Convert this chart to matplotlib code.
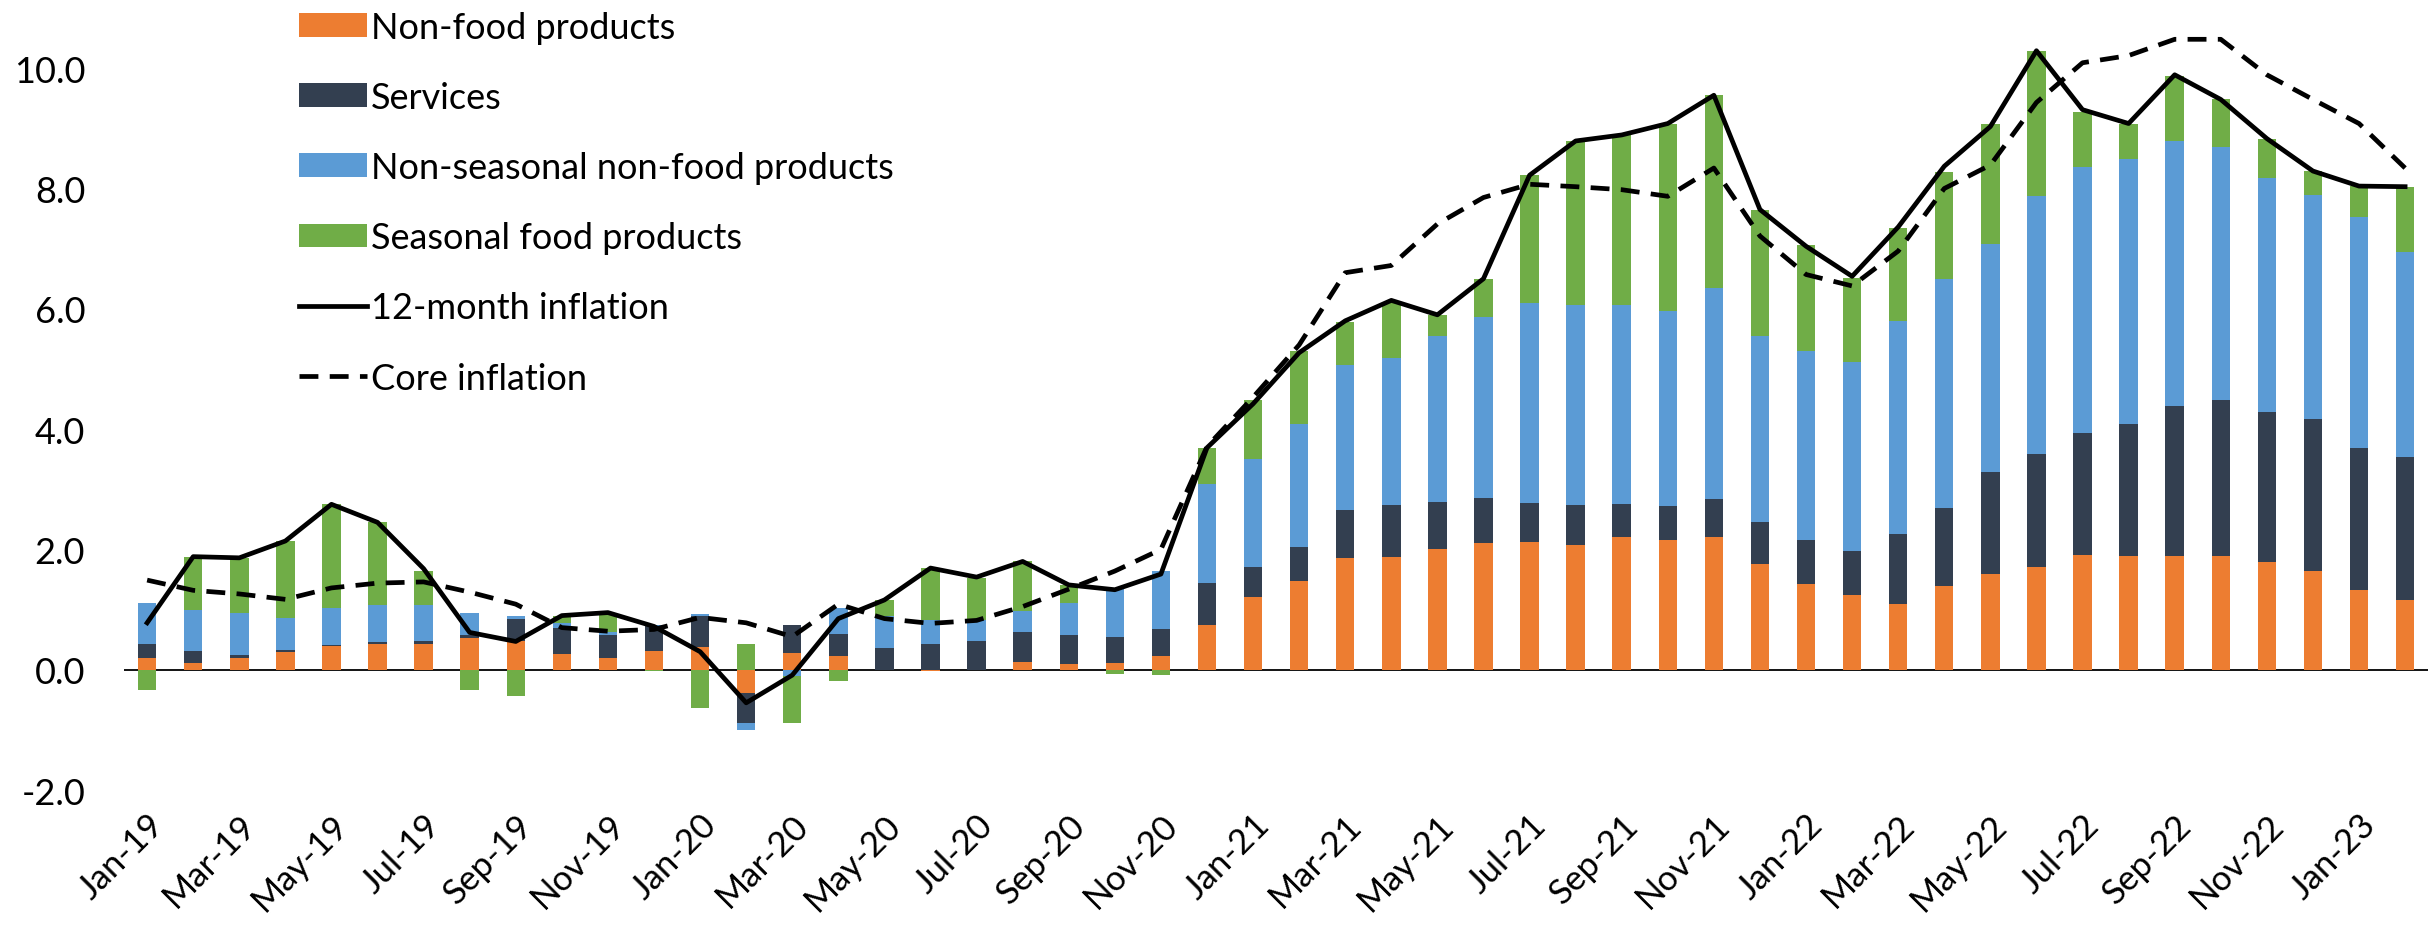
import numpy as np
import matplotlib
matplotlib.use("Agg")
import matplotlib.pyplot as plt
from matplotlib.patches import Patch
from matplotlib.lines import Line2D

plt.rcParams['font.family'] = ['Lato', 'DejaVu Sans']

months = [f"{m}-{y}" for y in ("19", "20", "21", "22") for m in
          ("Jan", "Feb", "Mar", "Apr", "May", "Jun", "Jul", "Aug", "Sep", "Oct", "Nov", "Dec")]
months += ["Jan-23", "Feb-23"]

# Contributions to 12-month inflation (percentage points)
non_food = [0.20, 0.11, 0.19, 0.30, 0.40, 0.42, 0.42, 0.52, 0.47, 0.26, 0.20, 0.31,
            0.37, -0.38, 0.27, 0.23, 0.00, -0.02, 0.00, 0.13, 0.10, 0.12, 0.22, 0.75,
            1.21, 1.48, 1.85, 1.87, 2.00, 2.11, 2.13, 2.08, 2.20, 2.16, 2.20, 1.76,
            1.43, 1.25, 1.10, 1.39, 1.59, 1.70, 1.91, 1.89, 1.89, 1.89, 1.79, 1.64,
            1.32, 1.16]
services = [0.22, 0.20, 0.06, 0.03, 0.01, 0.04, 0.05, 0.06, 0.38, 0.44, 0.38, 0.41,
            0.53, -0.50, 0.48, 0.37, 0.36, 0.43, 0.47, 0.50, 0.48, 0.42, 0.46, 0.69,
            0.50, 0.56, 0.81, 0.87, 0.79, 0.74, 0.64, 0.66, 0.56, 0.56, 0.64, 0.69,
            0.73, 0.73, 1.15, 1.30, 1.70, 1.89, 2.02, 2.20, 2.50, 2.60, 2.49, 2.53,
            2.37, 2.38]
non_seasonal = [0.69, 0.69, 0.70, 0.53, 0.62, 0.61, 0.60, 0.37, 0.05, 0.07, 0.04, 0.03,
                0.02, -0.12, -0.11, 0.43, 0.54, 0.40, 0.36, 0.35, 0.53, 0.82, 0.96, 1.65,
                1.79, 2.04, 2.41, 2.44, 2.75, 3.02, 3.33, 3.33, 3.31, 3.24, 3.51, 3.09,
                3.14, 3.13, 3.55, 3.80, 3.79, 4.29, 4.43, 4.40, 4.40, 4.20, 3.89, 3.73,
                3.84, 3.40]
seasonal_food = [-0.34, 0.88, 0.91, 1.28, 1.72, 1.38, 0.57, -0.34, -0.44, 0.13, 0.33, -0.02,
                 -0.63, 0.43, -0.77, -0.19, 0.26, 0.86, 0.69, 0.82, 0.30, -0.07, -0.09, 0.60,
                 0.98, 1.22, 0.71, 0.94, 0.36, 0.62, 2.12, 2.72, 2.82, 3.12, 3.20, 2.11,
                 1.76, 1.41, 1.54, 1.79, 1.99, 2.41, 0.91, 0.59, 1.08, 0.79, 0.66, 0.39,
                 0.51, 1.09]

# Inflation rates (%)
headline = [0.78, 1.88, 1.86, 2.14, 2.75, 2.45, 1.68, 0.62, 0.47, 0.90, 0.95, 0.72,
            0.30, -0.55, -0.09, 0.85, 1.16, 1.69, 1.54, 1.80, 1.41, 1.33, 1.59, 3.69,
            4.42, 5.27, 5.80, 6.14, 5.90, 6.50, 8.22, 8.79, 8.89, 9.08, 9.55, 7.65,
            7.04, 6.54, 7.36, 8.37, 9.03, 10.29, 9.31, 9.08, 9.89, 9.48, 8.83, 8.29,
            8.04, 8.03]
core = [1.49, 1.32, 1.26, 1.17, 1.36, 1.44, 1.46, 1.29, 1.09, 0.70, 0.64, 0.67,
        0.87, 0.78, 0.55, 1.09, 0.85, 0.77, 0.82, 1.05, 1.34, 1.64, 2.00, 3.71,
        4.53, 5.40, 6.60, 6.72, 7.41, 7.85, 8.07, 8.03, 7.98, 7.87, 8.34, 7.21,
        6.57, 6.38, 6.96, 8.00, 8.39, 9.43, 10.09, 10.21, 10.48, 10.48, 9.89, 9.48,
        9.08, 8.34]

y_ticks = [-2, 0, 2, 4, 6, 8, 10]

components = [
    (non_food, "#ED7D31", "Non-food products"),
    (services, "#333F50", "Services"),
    (non_seasonal, "#5B9BD5", "Non-seasonal non-food products"),
    (seasonal_food, "#70AD47", "Seasonal food products"),
]

fig = plt.figure(figsize=(24.33, 9.29), dpi=100)
ax = fig.add_axes([0.051, 0.1485, 0.947, 0.8515])

x = np.arange(len(months))
pos_base = np.zeros(len(x))
neg_base = np.zeros(len(x))
handles = []
for vals, color, label in components:
    v = np.asarray(vals, dtype=float)
    base = np.where(v >= 0, pos_base, neg_base)
    ax.bar(x, v, width=0.4, bottom=base, color=color, linewidth=0, zorder=2)
    pos_base += np.clip(v, 0, None)
    neg_base += np.clip(v, None, 0)
    handles.append(Patch(facecolor=color, label=label))

ax.axhline(0, color="black", lw=1.3, zorder=1)
ax.plot(x, headline, color="black", lw=3.4, zorder=4)
ax.plot(x, core, color="black", lw=3.4, dashes=(4, 2.4), zorder=4)
handles.append(Line2D([], [], color="black", lw=3.4, label="12-month inflation"))
handles.append(Line2D([], [], color="black", lw=3.4, dashes=(4, 2.4), label="Core inflation"))

ax.set_xlim(-0.5, len(x) - 0.5)
ax.set_ylim(-2, 11.15)
ax.set_yticks(y_ticks)
ax.set_yticklabels([f"{v:.1f}" for v in y_ticks], fontsize=26)
ax.set_xticks(x[::2])
ax.set_xticklabels(months[::2], fontsize=25, rotation=45, ha="right",
                   va="top", rotation_mode="anchor")
ax.tick_params(axis="both", length=0)
ax.tick_params(axis="y", pad=28)
ax.tick_params(axis="x", pad=13)
for s in ax.spines.values():
    s.set_visible(False)

fig.legend(handles=handles, loc="upper left", bbox_to_anchor=(0.117, 1.003),
           frameon=False, fontsize=26, handlelength=1.88, handleheight=0.64,
           handletextpad=0.12, labelspacing=1.03, borderaxespad=0)

fig.savefig("out.png", dpi=100)
